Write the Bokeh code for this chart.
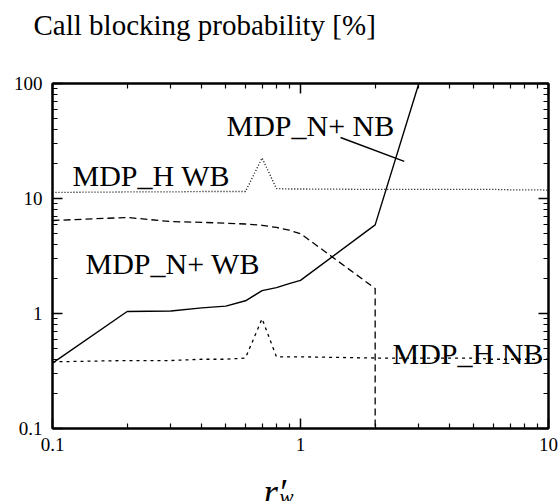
from bokeh.plotting import figure
from bokeh.layouts import column
from bokeh.models import Range1d, LogAxis, FixedTicker, CustomJSTickFormatter, Label, Title
from bokeh.core.properties import value
from bokeh.embed import file_html
from bokeh.resources import INLINE

# ---- data ----
n_nb_x = [0.1, 0.2, 0.3, 0.4, 0.5, 0.6, 0.7, 0.8, 0.9, 1.0, 2.0, 3.0]
n_nb_y = [0.37, 1.04, 1.05, 1.12, 1.16, 1.29, 1.58, 1.68, 1.82, 1.94, 5.9, 100.0]

n_wb_x = [0.1, 0.2, 0.3, 0.4, 0.5, 0.6, 0.7, 0.8, 0.9, 1.0, 2.0, 2.0]
n_wb_y = [6.44, 6.84, 6.3, 6.2, 6.1, 6.0, 5.85, 5.6, 5.3, 4.95, 1.65, 0.01]

h_x = [0.1, 0.2, 0.3, 0.4, 0.5, 0.6, 0.7, 0.8, 0.9, 1.0, 2.0, 3.0, 4.0, 5.0, 6.0, 7.0, 8.0, 9.0, 10.0]
h_wb_y = [11.3, 11.4, 11.4, 11.5, 11.5, 11.5, 22.5, 12.2, 12.1, 12.1, 12.0, 12.0, 12.0, 12.0, 12.0, 11.9, 11.9, 11.9, 11.8]
h_nb_y = [0.38, 0.39, 0.39, 0.40, 0.40, 0.41, 0.90, 0.42, 0.42, 0.42, 0.41, 0.41, 0.41, 0.41, 0.40, 0.40, 0.40, 0.40, 0.40]

pointer_x = [1.45, 2.62]
pointer_y = [33.9, 21.0]

x_ticks = [0.1, 1, 10]
y_ticks = [0.1, 1, 10, 100]

title_text = "Call blocking probability [%]"
series_labels = ["MDP_N+ NB", "MDP_H WB", "MDP_N+ WB", "MDP_H NB"]
x_label_main = "r\u2032"
x_label_sub = "w"

# ---- layout ----
W = 558
TOP_H = 60          # strip holding the title
MAIN_H = 399        # main figure (plot + tick labels)
BOT_H = 42          # strip holding the x-axis label
FL, FR = 52, 548    # frame left/right (page px)
FT, FB = 83, 428    # frame top/bottom (page px)
SERIF = "Liberation Serif"


def xd(px):
    return 10 ** (-1 + 2 * (px - FL) / (FR - FL))


def yd(py):
    return 10 ** (-1 + 3 * (FB - py) / (FB - FT))


def minor_ticks(decades):
    out = []
    for d in decades:
        out += [k * d for k in range(2, 10)]
    return out


def blank_fig(h, y_top):
    f = figure(width=W, height=h, x_range=Range1d(FL, FR),
               y_range=Range1d(y_top + h, y_top),
               output_backend="svg", toolbar_location=None,
               x_axis_location=None, y_axis_location=None,
               min_border_left=FL, min_border_right=W - FR,
               min_border_top=0, min_border_bottom=0)
    f.grid.visible = False
    f.outline_line_color = None
    f.background_fill_color = "white"
    f.border_fill_color = "white"
    return f


# ---- title strip ----
top = blank_fig(TOP_H, 0)
top.add_layout(Title(text=title_text, align="left", offset=33 - FL,
                     text_font=SERIF, text_font_size="29px",
                     text_font_style="normal", text_color="black",
                     standoff=12), "above")

# ---- main plot ----
p = figure(width=W, height=MAIN_H, x_axis_type="log", y_axis_type="log",
           x_range=Range1d(0.1, 10), y_range=Range1d(0.1, 100),
           output_backend="svg", toolbar_location=None,
           min_border_left=FL, min_border_right=W - FR,
           min_border_top=FT - TOP_H, min_border_bottom=TOP_H + MAIN_H - FB)
p.grid.visible = False
p.outline_line_color = "black"
p.outline_line_width = 2
p.background_fill_color = "white"
p.border_fill_color = "white"

fmt = CustomJSTickFormatter(code="return tick >= 1 ? tick.toFixed(0) : tick.toFixed(1);")
blank = CustomJSTickFormatter(code="return '';")
x_ticker = FixedTicker(ticks=x_ticks, minor_ticks=minor_ticks([0.1, 1]))
y_ticker = FixedTicker(ticks=y_ticks, minor_ticks=minor_ticks([0.1, 1, 10]))


def style_axis(ax, ticker, labels=True, standoff=10):
    ax.ticker = ticker
    ax.axis_line_width = 2
    ax.axis_line_color = "black"
    ax.major_tick_in = 10
    ax.major_tick_out = 0
    ax.minor_tick_in = 5
    ax.minor_tick_out = 0
    ax.major_tick_line_width = 1.5
    ax.minor_tick_line_width = 1.2
    ax.major_tick_line_color = "black"
    ax.minor_tick_line_color = "black"
    if labels:
        ax.formatter = fmt
        ax.major_label_text_font = SERIF
        ax.major_label_text_font_size = "19px"
        ax.major_label_text_color = "black"
        ax.major_label_standoff = standoff
    else:
        ax.formatter = blank
        ax.major_label_standoff = 0
        ax.major_label_text_font_size = "1px"


style_axis(p.xaxis[0], x_ticker, standoff=9)
style_axis(p.yaxis[0], y_ticker, standoff=10)

top_ax = LogAxis()
right_ax = LogAxis()
style_axis(top_ax, x_ticker, labels=False)
style_axis(right_ax, y_ticker, labels=False)
p.add_layout(top_ax, "above")
p.add_layout(right_ax, "right")

# ---- curves ----
p.line(n_nb_x, n_nb_y, line_color="black", line_width=1.4)
p.line(n_wb_x, n_wb_y, line_color="black", line_width=1.3, line_dash="7 4")
p.line(h_x, h_wb_y, line_color="black", line_width=1.3, line_dash="1 2")
p.line(h_x, h_nb_y, line_color="black", line_width=1.3, line_dash="3 4")
p.line(pointer_x, pointer_y, line_color="black", line_width=1.4)


# ---- in-plot labels ----
def add_label(text, px, py, size):
    p.add_layout(Label(x=xd(px), y=yd(py), text=text, text_font=SERIF,
                       text_font_size=size, text_color="black",
                       text_baseline="alphabetic", text_align="left"))


add_label(series_labels[0], 226, 125, "30px")
add_label(series_labels[1], 72, 175, "30px")
add_label(series_labels[2], 85, 263, "30px")
add_label(series_labels[3], 392, 353, "30px")

# ---- x-axis label strip ----
bot = blank_fig(BOT_H, TOP_H + MAIN_H)
bot.text(x=[263], y=[492], text=[x_label_main], text_font=value(SERIF),
         text_font_size="37px", text_font_style="italic", text_color="black",
         text_baseline="alphabetic", text_align="left")
bot.text(x=[279], y=[496], text=[x_label_sub], text_font=value(SERIF),
         text_font_size="21px", text_font_style="italic", text_color="black",
         text_baseline="alphabetic", text_align="left")

layout = column(top, p, bot, spacing=0)
open("out.html", "w").write(file_html(layout, INLINE))
